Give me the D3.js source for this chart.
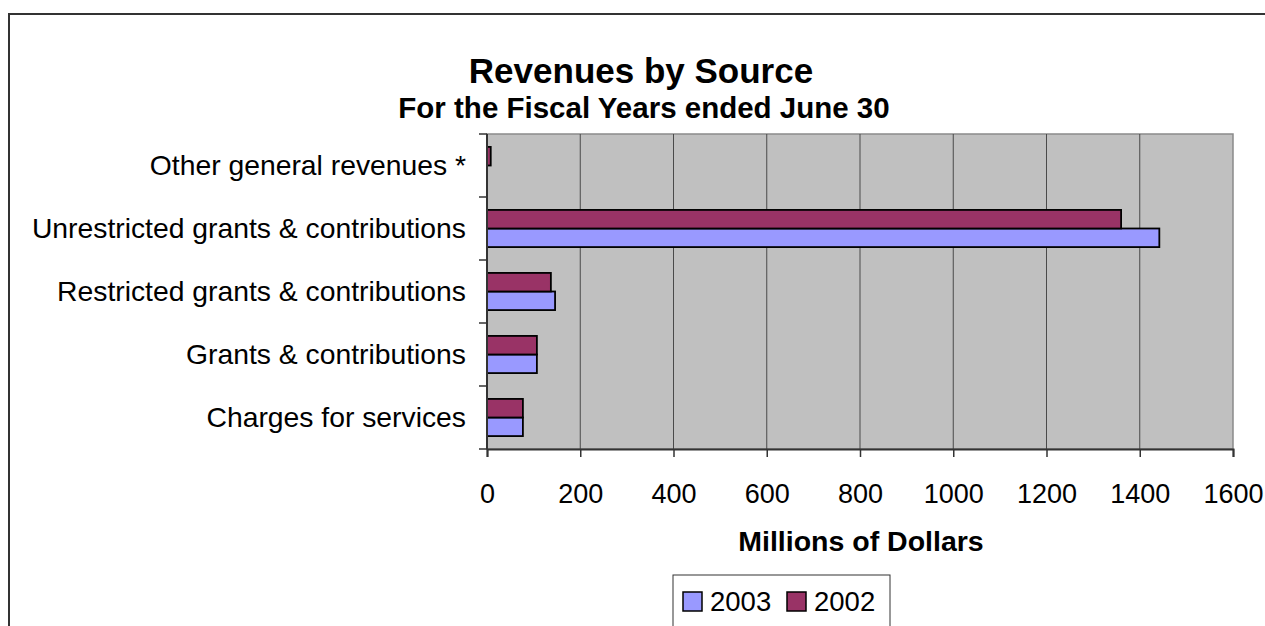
<!DOCTYPE html>
<html>
<head>
<meta charset="utf-8">
<script src="https://cdn.jsdelivr.net/npm/d3@7"></script>
<style>
  body { margin: 0; background: #fff; }
  svg { display: block; }
  text { font-family: "Liberation Sans", Arial, Helvetica, sans-serif; fill: #000; }
</style>
</head>
<body>
<svg id="chart" width="1265" height="626"></svg>
<script>
// Revenue sources, listed bottom to top as they appear on the axis
const categories = [
  "Charges for services",
  "Grants & contributions",
  "Restricted grants & contributions",
  "Unrestricted grants & contributions",
  "Other general revenues *"
];
// Millions of dollars
const values2003 = [77, 107, 146, 1442, 0];
const values2002 = [77, 107, 137, 1360, 8];
const seriesNames = ["2003", "2002"];
const seriesColors = ["#9999ff", "#993366"];
const xTickValues = [0, 200, 400, 600, 800, 1000, 1200, 1400, 1600];

const titleText = "Revenues by Source";
const subtitleText = "For the Fiscal Years ended June 30";
const xAxisTitle = "Millions of Dollars";

const svg = d3.select("#chart");
const W = 1265, H = 626;

// outer chart frame (runs past the right and bottom edges)
svg.append("rect")
  .attr("x", 9).attr("y", 14)
  .attr("width", W + 20).attr("height", H + 20)
  .attr("fill", "#fff").attr("stroke", "#333").attr("stroke-width", 2);

const plot = { left: 487, right: 1233, top: 134, bottom: 449 };

const x = d3.scaleLinear().domain([0, 1600]).range([plot.left, plot.right]);
const y = d3.scaleBand()
  .domain(categories)
  .range([plot.bottom, plot.top])
  .paddingInner(0.41)
  .paddingOuter(0.205);
// within each group 2002 sits above 2003
const yInner = d3.scaleBand().domain(["2002", "2003"]).range([0, y.bandwidth()]);

// plot background
svg.append("rect")
  .attr("x", plot.left).attr("y", plot.top)
  .attr("width", plot.right - plot.left).attr("height", plot.bottom - plot.top)
  .attr("fill", "#c0c0c0").attr("stroke", "#8a8a8a").attr("stroke-width", 1.5);

// vertical gridlines
svg.append("g").selectAll("line")
  .data(xTickValues.filter(v => v > 0 && v < 1600))
  .join("line")
  .attr("x1", d => x(d)).attr("x2", d => x(d))
  .attr("y1", plot.top).attr("y2", plot.bottom)
  .attr("stroke", "#4a4a4a").attr("stroke-width", 1);

// bars
const series = [
  { name: "2003", values: values2003, color: seriesColors[0] },
  { name: "2002", values: values2002, color: seriesColors[1] }
];
const barsG = svg.append("g");
series.forEach(s => {
  barsG.selectAll(null)
    .data(categories.map((c, i) => ({ c, v: s.values[i] })).filter(d => d.v > 0))
    .join("rect")
    .attr("x", x(0))
    .attr("y", d => y(d.c) + yInner(s.name))
    .attr("width", d => x(d.v) - x(0))
    .attr("height", yInner.bandwidth())
    .attr("fill", s.color)
    .attr("stroke", "#000")
    .attr("stroke-width", 1.8);
});

// x axis
const xAxis = d3.axisBottom(x).tickValues(xTickValues).tickSize(8).tickPadding(27).tickFormat(d3.format("d"));
const gx = svg.append("g").attr("transform", `translate(0,${plot.bottom})`).call(xAxis);
gx.select(".domain").attr("stroke", "#333").attr("stroke-width", 2);
gx.selectAll(".tick line").attr("stroke", "#333").attr("stroke-width", 1.5);
gx.selectAll(".tick text")
  .style("font-size", "27px")
  .style("font-family", "'Liberation Sans', Arial, sans-serif");

// y axis: ticks sit between categories, labels centred on each group
const yAxisG = svg.append("g");
yAxisG.append("line")
  .attr("x1", plot.left).attr("x2", plot.left)
  .attr("y1", plot.top).attr("y2", plot.bottom)
  .attr("stroke", "#333").attr("stroke-width", 2);
const step = y.step();
const boundaries = d3.range(categories.length + 1).map(i => plot.bottom - i * step);
yAxisG.selectAll(".ytick")
  .data(boundaries)
  .join("line")
  .attr("x1", plot.left - 8).attr("x2", plot.left)
  .attr("y1", d => d).attr("y2", d => d)
  .attr("stroke", "#333").attr("stroke-width", 1.5);
yAxisG.selectAll(".ylabel")
  .data(categories)
  .join("text")
  .attr("x", 466)
  .attr("y", d => y(d) + y.bandwidth() / 2)
  .attr("dy", "0.35em")
  .attr("text-anchor", "end")
  .style("font-size", "28.3px")
  .text(d => d);

// titles
svg.append("text")
  .attr("x", 641).attr("y", 83)
  .attr("text-anchor", "middle")
  .style("font-size", "35px").style("font-weight", "bold")
  .text(titleText);
svg.append("text")
  .attr("x", 644).attr("y", 117.5)
  .attr("text-anchor", "middle")
  .style("font-size", "29.5px").style("font-weight", "bold")
  .text(subtitleText);
svg.append("text")
  .attr("x", 861).attr("y", 551)
  .attr("text-anchor", "middle")
  .style("font-size", "28.5px").style("font-weight", "bold")
  .text(xAxisTitle);

// legend
const legend = svg.append("g");
legend.append("rect")
  .attr("x", 673).attr("y", 575)
  .attr("width", 217).attr("height", 80)
  .attr("fill", "#fff").attr("stroke", "#333").attr("stroke-width", 1);
const legendItems = [
  { name: seriesNames[0], color: seriesColors[0], sx: 683, tx: 710 },
  { name: seriesNames[1], color: seriesColors[1], sx: 787, tx: 814 }
];
legendItems.forEach(it => {
  legend.append("rect")
    .attr("x", it.sx).attr("y", 592)
    .attr("width", 19).attr("height", 19)
    .attr("fill", it.color).attr("stroke", "#000").attr("stroke-width", 1.5);
  legend.append("text")
    .attr("x", it.tx).attr("y", 611)
    .style("font-size", "27.5px")
    .text(it.name);
});
</script>
</body>
</html>
